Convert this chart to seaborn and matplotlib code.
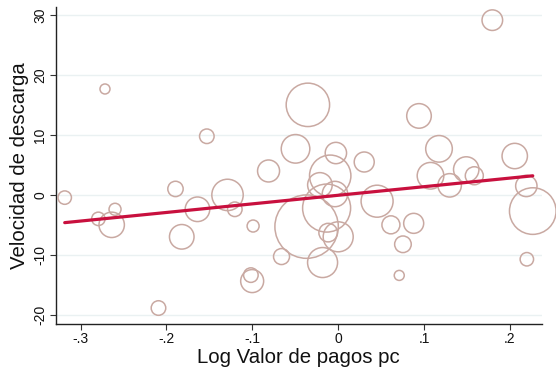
import numpy as np
import pandas as pd
import matplotlib
matplotlib.use("Agg")
import matplotlib.pyplot as plt
import seaborn as sns

# Data
log_valor_pagos = [-0.3185, -0.2793, -0.2599, -0.2638, -0.2716, -0.1895, -0.1822, -0.2093,
                   -0.1639, -0.1530, -0.1289, -0.1204, -0.0991, -0.1017, -0.1002, -0.0811,
                   -0.0660, -0.0497, -0.0353, -0.0368, -0.0213, -0.0135, -0.0093, -0.0182,
                   -0.0117, 0.0000, -0.0038, -0.0027, 0.0303, 0.0453, 0.0614, 0.0879,
                   0.0754, 0.0711, 0.0941, 0.1174, 0.1075, 0.1298, 0.1491, 0.1585,
                   0.1795, 0.2056, 0.2191, 0.2266, 0.2197]
velocidad_descarga = [-0.45, -4.0, -2.4, -5.0, 17.7, 1.0, -7.0, -18.9,
                      -2.4, 9.8, 0.0, -2.4, -5.2, -13.4, -14.4, 4.0,
                      -10.3, 7.7, 15.05, -5.3, 1.67, -2.2, 3.2, -11.3,
                      -6.3, -7.0, 0.15, 7.0, 5.5, -1.05, -5.0, -4.75,
                      -8.25, -13.45, 13.2, 7.7, 3.2, 1.6, 4.25, 3.2,
                      29.2, 6.5, 1.5, -2.7, -10.75]
peso = [45, 45, 36, 161, 25, 59, 151, 53,
        151, 53, 246, 53, 36, 53, 132, 121,
        64, 204, 471, 1005, 151, 576, 428, 225,
        86, 225, 161, 114, 100, 256, 81, 100,
        69, 25, 151, 177, 177, 137, 161, 81,
        106, 161, 114, 543, 45]

# Fitted line
fit_slope = 14.36
fit_intercept = -0.06

x_ticks = [-0.3, -0.2, -0.1, 0.0, 0.1, 0.2]
x_ticklabels = ["-.3", "-.2", "-.1", "0", ".1", ".2"]
y_ticks = [-20, -10, 0, 10, 20, 30]
y_ticklabels = ["-20", "-10", "0", "10", "20", "30"]

df = pd.DataFrame({"x": log_valor_pagos, "y": velocidad_descarga, "w": peso})

sns.set_style("white")
plt.rcParams["font.family"] = ["Liberation Sans", "DejaVu Sans"]

fig = plt.figure(figsize=(5.56, 3.68), dpi=100)
ax = fig.add_axes([55.7 / 556, 1 - 324 / 368, (541.7 - 55.7) / 556, (324 - 7) / 368])

circle_color = "#C9A9A2"
line_color = "#C8103E"

wmax = max(peso)
pt_per_px = 0.72
k = (2 * pt_per_px) ** 2  # area (pt^2) per px^2 of radius^2
sns.scatterplot(data=df, x="x", y="y", size="w", sizes=(0, k * wmax), size_norm=(0, wmax),
                marker="o", facecolors="none", edgecolor=circle_color, linewidth=1.1,
                legend=False, ax=ax, zorder=3)
for coll in ax.collections:
    coll.set_facecolor("none")
    coll.set_edgecolor(circle_color)
    coll.set_clip_on(False)

xl = np.array([min(log_valor_pagos), max(log_valor_pagos)])
fit_df = pd.DataFrame({"x": xl, "y": fit_intercept + fit_slope * xl})
sns.lineplot(data=fit_df, x="x", y="y", color=line_color, linewidth=2.3, ax=ax, zorder=4)

ax.set_xlim(-0.329, 0.237)
ax.set_ylim(-21.57, 31.4)

ax.set_xticks(x_ticks)
ax.set_xticklabels(x_ticklabels, fontsize=10)
ax.set_yticks(y_ticks)
ax.set_yticklabels(y_ticklabels, fontsize=10, rotation=90, va="center")

ax.grid(axis="y", color="#EAF1F2", linewidth=1.0, zorder=0)
ax.grid(axis="x", visible=False)
ax.set_axisbelow(True)

for side in ["top", "right"]:
    ax.spines[side].set_visible(False)
for side in ["left", "bottom"]:
    ax.spines[side].set_color("#222222")
    ax.spines[side].set_linewidth(1.0)

ax.tick_params(axis="both", direction="out", length=4, width=0.8, color="#333333",
               labelcolor="#111111", bottom=True, left=True, pad=2)

ax.set_xlabel("Log Valor de pagos pc", fontsize=14.7, color="#111111", labelpad=1)
ax.set_ylabel("Velocidad de descarga", fontsize=14.7, color="#111111", labelpad=3)

fig.savefig("out.png", dpi=100)
